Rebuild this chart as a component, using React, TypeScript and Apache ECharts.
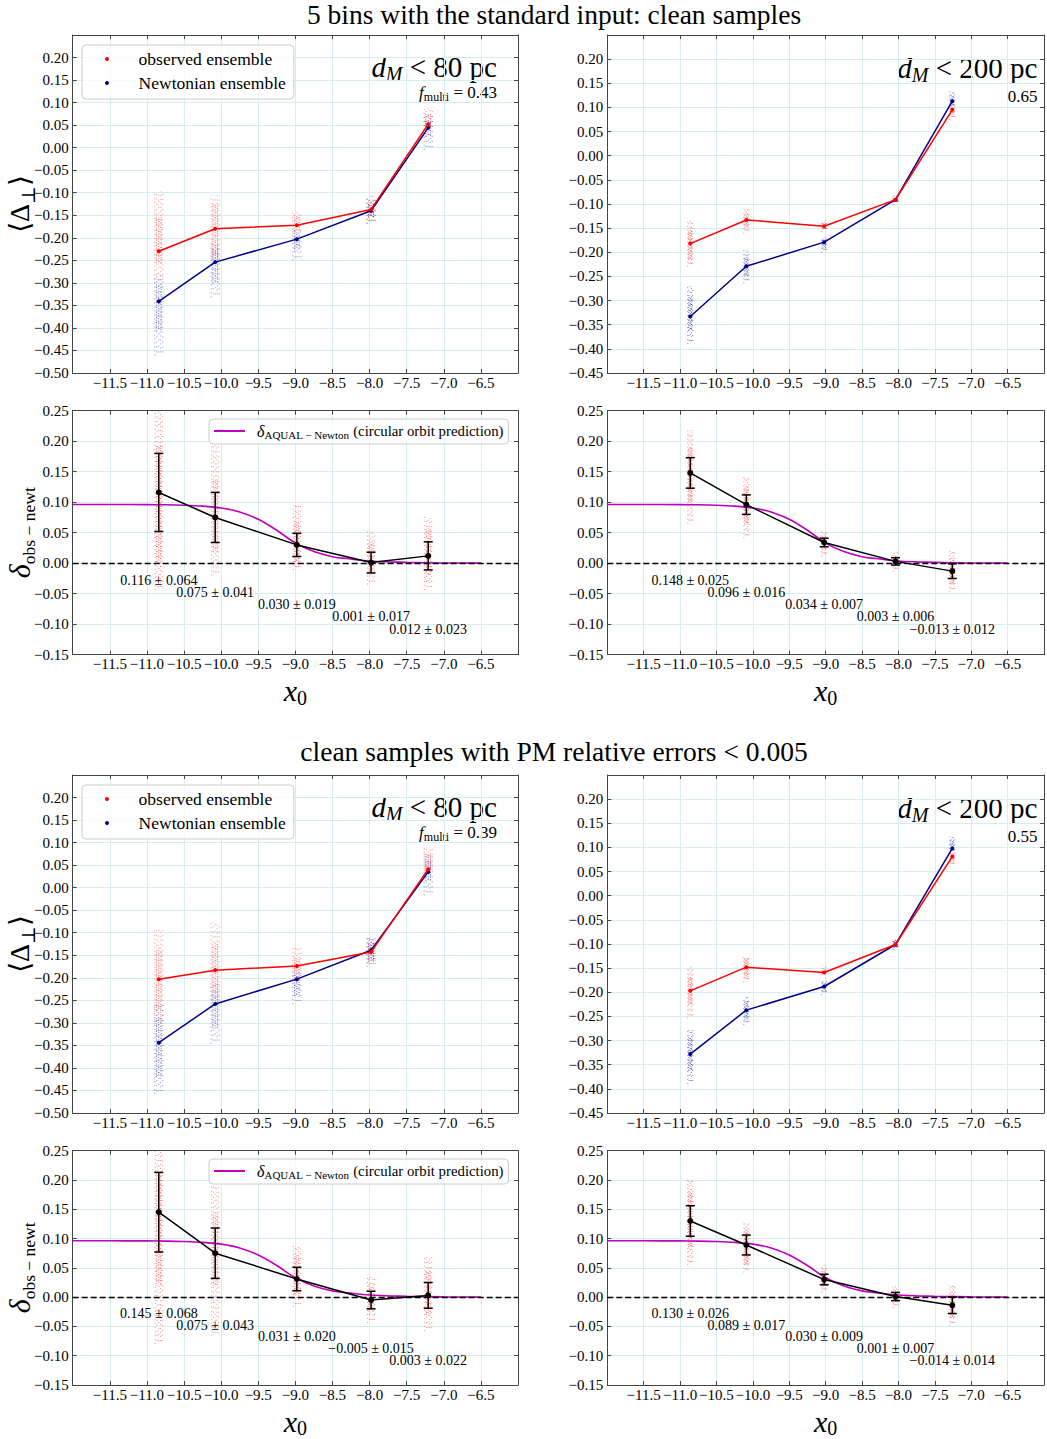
import React, { useEffect, useRef } from 'react';
import * as echarts from 'echarts';

const SERIF = '"Liberation Serif", "Times New Roman", "DejaVu Serif", serif';
const MATH = '"Liberation Serif", "DejaVu Serif", "DejaVu Sans", serif';

const RED = '#ff0000';
const BLUE = '#00008b';
const MAG = '#bf00bf';
const SPINE = '#444444';
const GRIDC = '#d2f0f0';

const titles = ['5 bins with the standard input: clean samples', 'clean samples with PM relative errors < 0.005'];
const distLabels = ['80', '200'];
const fMulti = [['0.43', '0.65'], ['0.39', '0.55']];

// bin centres (x0) for the two distance cuts
const binsNear = [-10.84, -10.08, -8.98, -7.98, -7.21];
const binsFar = [-10.86, -10.09, -9.02, -8.04, -7.26];

// ---- set 1: ensemble means ----
const s1NearObs = [-0.230, -0.180, -0.172, -0.137, 0.052];
const s1NearNewt = [-0.341, -0.254, -0.203, -0.140, 0.044];
const s1FarObs = [-0.182, -0.133, -0.146, -0.091, 0.095];
const s1FarNewt = [-0.333, -0.229, -0.179, -0.091, 0.113];
// ---- set 2: ensemble means ----
const s2NearObs = [-0.203, -0.183, -0.174, -0.143, 0.041];
const s2NearNewt = [-0.344, -0.258, -0.203, -0.139, 0.035];
const s2FarObs = [-0.197, -0.148, -0.159, -0.101, 0.081];
const s2FarNewt = [-0.328, -0.237, -0.188, -0.101, 0.098];

// ensemble clouds: [low, high, dense low, dense high]
const s1NearObsCloud = [[-0.300, -0.097, -0.257, -0.154], [-0.257, -0.105, -0.243, -0.124], [-0.191, -0.141, -0.185, -0.150], [-0.169, -0.107, -0.155, -0.120], [0.039, 0.089, 0.045, 0.075]];
const s1NearNewtCloud = [[-0.461, -0.283, -0.406, -0.302], [-0.332, -0.213, -0.300, -0.225], [-0.250, -0.183, -0.225, -0.190], [-0.169, -0.109, -0.155, -0.125], [-0.005, 0.072, 0.025, 0.060]];
const s1FarObsCloud = [[-0.230, -0.134, -0.216, -0.154], [-0.161, -0.110, -0.150, -0.120], [-0.158, -0.134, -0.153, -0.140], [-0.099, -0.082, -0.095, -0.086], [0.074, 0.105, 0.085, 0.100]];
const s1FarNewtCloud = [[-0.390, -0.270, -0.362, -0.293], [-0.264, -0.195, -0.250, -0.210], [-0.201, -0.169, -0.192, -0.173], [-0.102, -0.084, -0.097, -0.088], [0.098, 0.133, 0.103, 0.125]];
const s2NearObsCloud = [[-0.302, -0.094, -0.272, -0.139], [-0.250, -0.076, -0.228, -0.124], [-0.198, -0.130, -0.190, -0.155], [-0.169, -0.113, -0.160, -0.125], [0.032, 0.091, 0.040, 0.075]];
const s2NearNewtCloud = [[-0.458, -0.258, -0.420, -0.287], [-0.346, -0.213, -0.311, -0.228], [-0.258, -0.183, -0.240, -0.190], [-0.176, -0.109, -0.165, -0.120], [-0.017, 0.076, 0.015, 0.060]];
const s2FarObsCloud = [[-0.254, -0.147, -0.225, -0.168], [-0.179, -0.123, -0.170, -0.130], [-0.164, -0.147, -0.162, -0.150], [-0.112, -0.091, -0.108, -0.095], [0.060, 0.091, 0.070, 0.088]];
const s2FarNewtCloud = [[-0.390, -0.276, -0.362, -0.293], [-0.268, -0.210, -0.258, -0.218], [-0.206, -0.175, -0.198, -0.180], [-0.112, -0.091, -0.108, -0.095], [0.088, 0.122, 0.092, 0.115]];

// ---- delta obs - newt: value and error ----
const s1NearDelta = [0.116, 0.075, 0.030, 0.001, 0.012];
const s1NearErr = [0.064, 0.041, 0.019, 0.017, 0.023];
const s1FarDelta = [0.148, 0.096, 0.034, 0.003, -0.013];
const s1FarErr = [0.025, 0.016, 0.007, 0.006, 0.012];
const s2NearDelta = [0.145, 0.075, 0.031, -0.005, 0.003];
const s2NearErr = [0.068, 0.043, 0.020, 0.015, 0.022];
const s2FarDelta = [0.130, 0.089, 0.030, 0.001, -0.014];
const s2FarErr = [0.026, 0.017, 0.009, 0.007, 0.014];

// delta clouds: [low, high, dense low, dense high]
const s1NearDeltaCloud = [[-0.044, 0.248, 0.002, 0.193], [-0.020, 0.193, 0.018, 0.138], [-0.011, 0.095, 0.002, 0.068], [-0.035, 0.052, -0.014, 0.035], [-0.044, 0.076, -0.020, 0.057]];
const s1FarDeltaCloud = [[0.065, 0.218, 0.100, 0.190], [0.041, 0.142, 0.065, 0.125], [0.011, 0.052, 0.022, 0.045], [-0.014, 0.019, -0.005, 0.012], [-0.047, 0.022, -0.035, 0.005]];
const s2NearDeltaCloud = [[-0.080, 0.250, 0.022, 0.213], [-0.066, 0.190, 0.020, 0.143], [-0.017, 0.090, 0.005, 0.070], [-0.044, 0.035, -0.025, 0.020], [-0.058, 0.068, -0.030, 0.045]];
const s2FarDeltaCloud = [[0.055, 0.200, 0.085, 0.180], [0.042, 0.129, 0.055, 0.115], [0.008, 0.055, 0.018, 0.045], [-0.019, 0.019, -0.010, 0.012], [-0.049, 0.020, -0.035, 0.005]];

// AQUAL - Newton circular orbit prediction
const aqualX = [-12.0, -11.5, -11.0, -10.75, -10.5, -10.25, -10.0, -9.75, -9.5, -9.25, -9.0, -8.75, -8.5, -8.25, -8.0, -7.75, -7.5, -7.0, -6.5];
const aqualY = [0.0963, 0.0962, 0.0960, 0.0957, 0.0950, 0.0935, 0.0905, 0.0840, 0.0720, 0.0540, 0.0330, 0.0190, 0.0107, 0.0068, 0.0036, 0.0022, 0.0014, 0.0004, 0.0001];

const ENS = [
  [
    { bins: binsNear, obs: s1NearObs, newt: s1NearNewt, obsCloud: s1NearObsCloud, newtCloud: s1NearNewtCloud },
    { bins: binsFar, obs: s1FarObs, newt: s1FarNewt, obsCloud: s1FarObsCloud, newtCloud: s1FarNewtCloud },
  ],
  [
    { bins: binsNear, obs: s2NearObs, newt: s2NearNewt, obsCloud: s2NearObsCloud, newtCloud: s2NearNewtCloud },
    { bins: binsFar, obs: s2FarObs, newt: s2FarNewt, obsCloud: s2FarObsCloud, newtCloud: s2FarNewtCloud },
  ],
];
const DELTA = [
  [
    { bins: binsNear, val: s1NearDelta, err: s1NearErr, cloud: s1NearDeltaCloud },
    { bins: binsFar, val: s1FarDelta, err: s1FarErr, cloud: s1FarDeltaCloud },
  ],
  [
    { bins: binsNear, val: s2NearDelta, err: s2NearErr, cloud: s2NearDeltaCloud },
    { bins: binsFar, val: s2FarDelta, err: s2FarErr, cloud: s2FarDeltaCloud },
  ],
];

// ---- layout ----
const SET_DY = [0, 740];
const TITLE_Y = [14, 751];
const COL_X = [72.7, 607.3];
const COL_W = [445.3, 444];
const ENS_TOP = 35;
const ENS_H = 338;
const DEL_TOP = 410.7;
const DEL_H = 244;
const ENS_YMIN = [-0.5, -0.45];
const AQ_NAME = 'aqual';
const TICK_FS = 15;

const minus = (s: string) => s.replace('-', '\u2212');
const fmtX = (v: number) => {
  if (v < -11.75 || v > -6.25) return '';
  return minus(v.toFixed(1));
};
const fmtYEns = (v: number) => (v > 0.245 ? '' : minus(Math.abs(v) < 1e-9 ? '0.00' : v.toFixed(2)));
const fmtYDel = (v: number) => minus(Math.abs(v) < 1e-9 ? '0.00' : v.toFixed(2));
const fmt3 = (v: number) => minus(v.toFixed(3));

const cloudRender = (color: string, half: number) => (params: any, api: any) => {
  const x = api.value(0);
  const lo = api.coord([x, api.value(1)]);
  const hi = api.coord([x, api.value(2)]);
  const cl = api.coord([x, api.value(3)]);
  const ch = api.coord([x, api.value(4)]);
  const children: any[] = [];
  const n = 5;
  for (let k = 0; k < n; k++) {
    const o = -half + (2 * half * k) / (n - 1);
    children.push({
      type: 'line',
      shape: { x1: lo[0] + o, y1: lo[1], x2: hi[0] + o, y2: hi[1] },
      style: { stroke: color, lineWidth: 1, lineDash: [1, 3 + (k % 3)], lineDashOffset: k * 1.7, opacity: 0.45 },
    });
  }
  for (let k = 0; k < 3; k++) {
    const o = -half * 0.6 + half * 0.6 * k;
    children.push({
      type: 'line',
      shape: { x1: cl[0] + o, y1: cl[1], x2: ch[0] + o, y2: ch[1] },
      style: { stroke: color, lineWidth: 1, lineDash: [1, 1.5], lineDashOffset: k * 0.8, opacity: 0.55 },
    });
  }
  return { type: 'group', children };
};

const errRender = (params: any, api: any) => {
  const x = api.value(0);
  const v = api.value(1);
  const e = api.value(2);
  const a = api.coord([x, v - e]);
  const b = api.coord([x, v + e]);
  const cw = 4.5;
  const st = { stroke: '#000', lineWidth: 1.5 };
  return {
    type: 'group',
    children: [
      { type: 'line', shape: { x1: a[0], y1: a[1], x2: b[0], y2: b[1] }, style: st },
      { type: 'line', shape: { x1: a[0] - cw, y1: a[1], x2: a[0] + cw, y2: a[1] }, style: st },
      { type: 'line', shape: { x1: b[0] - cw, y1: b[1], x2: b[0] + cw, y2: b[1] }, style: st },
    ],
  };
};

const annRender = (params: any, api: any) => {
  const i = params.dataIndex;
  const x = api.value(0);
  const pt = api.coord([x, -0.028 - 0.02 * i]);
  return {
    type: 'text',
    x: pt[0],
    y: pt[1],
    style: {
      text: `${fmt3(api.value(1))} \u00b1 ${fmt3(api.value(2))}`,
      align: 'center',
      verticalAlign: 'middle',
      fontFamily: SERIF,
      fontSize: 14,
      fill: '#000',
    },
  };
};

function axisPair(gi: number, kind: 'x' | 'y', min: number, max: number, interval: number, formatter: any, name: string, nameStyle: any, nameGap: number) {
  const base = {
    type: 'value',
    gridIndex: gi,
    min,
    max,
    interval,
    axisLine: { show: true, onZero: false, lineStyle: { color: SPINE, width: 1 } },
    axisTick: { show: true, inside: true, length: 4, lineStyle: { color: SPINE, width: 1 } },
  };
  const primary = {
    ...base,
    position: kind === 'x' ? 'bottom' : 'left',
    axisLabel: {
      show: true, fontFamily: SERIF, fontSize: TICK_FS, color: '#000',
      margin: kind === 'x' ? 2 : 4, formatter,
    },
    splitLine: { show: true, lineStyle: { color: GRIDC, width: 1 } },
    name,
    nameLocation: 'middle',
    nameRotate: kind === 'y' ? 90 : 0,
    nameGap,
    nameMoveOverlap: false,
    nameTextStyle: nameStyle,
  };
  const secondary = {
    ...base,
    position: kind === 'x' ? 'top' : 'right',
    axisLabel: { show: false },
    splitLine: { show: false },
  };
  return [primary, secondary];
}

const xNameStyle = {
  rich: {
    x: { fontFamily: MATH, fontSize: 30, fontStyle: 'italic', lineHeight: 34, color: '#000' },
    s: { fontFamily: MATH, fontSize: 20, lineHeight: 21, verticalAlign: 'bottom', color: '#000' },
  },
};
const yEnsNameStyle = {
  rich: {
    b: { fontFamily: MATH, fontSize: 28, lineHeight: 36, color: '#000' },
    s: { fontFamily: MATH, fontSize: 19, lineHeight: 22, verticalAlign: 'bottom', color: '#000' },
  },
};
const yDelNameStyle = {
  rich: {
    d: { fontFamily: MATH, fontSize: 30, fontStyle: 'italic', lineHeight: 36, color: '#000' },
    s: { fontFamily: MATH, fontSize: 17.5, lineHeight: 21, verticalAlign: 'bottom', color: '#000' },
  },
};

function buildOption() {
  const grid: any[] = [];
  const xAxis: any[] = [];
  const yAxis: any[] = [];
  const series: any[] = [];
  const legend: any[] = [];
  const graphic: any[] = [];
  let gi = 0;

  [0, 1].forEach((set) => {
    const dy = SET_DY[set];
    graphic.push({
      type: 'text',
      x: 554,
      y: TITLE_Y[set],
      style: { text: titles[set], fontFamily: SERIF, fontSize: 27.5, lineHeight: 26, fill: '#000', align: 'center', verticalAlign: 'middle' },
    });

    // ---- ensemble panels ----
    [0, 1].forEach((col) => {
      const d = ENS[set][col];
      grid.push({ left: COL_X[col], top: ENS_TOP + dy, width: COL_W[col], height: ENS_H, containLabel: false });
      xAxis.push(...axisPair(gi, 'x', -12, -6, 0.5, fmtX, '', {}, 0));
      yAxis.push(
        ...axisPair(gi, 'y', ENS_YMIN[col], 0.25, 0.05, fmtYEns, col === 0 ? '{b|\u27e8\u0394}{s|\u22a5}{b|\u27e9}' : '', yEnsNameStyle, 35)
      );
      const xi = 2 * gi;
      const half = col === 0 ? 4 : 2.5;
      series.push({
        type: 'custom', name: 'observed ensemble', xAxisIndex: xi, yAxisIndex: xi, clip: true, silent: true, z: 1,
        itemStyle: { color: RED }, renderItem: cloudRender(RED, half),
        data: d.bins.map((x, i) => [x, ...d.obsCloud[i]]),
      });
      series.push({
        type: 'custom', name: 'Newtonian ensemble', xAxisIndex: xi, yAxisIndex: xi, clip: true, silent: true, z: 1,
        itemStyle: { color: BLUE }, renderItem: cloudRender(BLUE, half),
        data: d.bins.map((x, i) => [x, ...d.newtCloud[i]]),
      });
      series.push({
        type: 'line', name: `newt-mean-${gi}`, xAxisIndex: xi, yAxisIndex: xi, silent: true, z: 3,
        symbol: 'circle', symbolSize: 4, lineStyle: { color: BLUE, width: 1.5 }, itemStyle: { color: BLUE },
        data: d.bins.map((x, i) => [x, d.newt[i]]),
      });
      series.push({
        type: 'line', name: `obs-mean-${gi}`, xAxisIndex: xi, yAxisIndex: xi, silent: true, z: 4,
        symbol: 'circle', symbolSize: 4, lineStyle: { color: RED, width: 1.5 }, itemStyle: { color: RED },
        data: d.bins.map((x, i) => [x, d.obs[i]]),
      });

      const rightX = col === 0 ? 497 : 1037.5;
      graphic.push({
        type: 'text',
        x: rightX,
        y: (col === 0 ? 66.7 : 67.7) + dy,
        style: {
          text: `{i|d}{s|M}{n| < ${distLabels[col]} pc}`,
          align: 'right',
          verticalAlign: 'middle',
          rich: {
            i: { fontFamily: MATH, fontSize: 29, fontStyle: 'italic', lineHeight: 34, fill: '#000' },
            s: { fontFamily: MATH, fontSize: 20, fontStyle: 'italic', lineHeight: 23, verticalAlign: 'bottom', fill: '#000' },
            n: { fontFamily: MATH, fontSize: 29, lineHeight: 34, fill: '#000' },
          },
        },
      });
      graphic.push({
        type: 'text',
        x: rightX,
        y: (col === 0 ? 92.7 : 96.7) + dy,
        style: {
          text: col === 0 ? `{i|f}{s|multi}{n| = ${fMulti[set][col]}}` : `{n|${fMulti[set][col]}}`,
          align: 'right',
          verticalAlign: 'middle',
          rich: {
            i: { fontFamily: MATH, fontSize: 17, fontStyle: 'italic', lineHeight: 20, fill: '#000' },
            s: { fontFamily: MATH, fontSize: 12, lineHeight: 13, verticalAlign: 'bottom', fill: '#000' },
            n: { fontFamily: MATH, fontSize: 17, lineHeight: 20, fill: '#000' },
          },
        },
      });
      if (col === 0) {
        legend.push({
          left: 82, top: 45 + dy, orient: 'vertical', align: 'left', selectedMode: false,
          padding: [4, 8, 6, 23], itemGap: 4, itemWidth: 28, itemHeight: 4,
          backgroundColor: 'rgba(255,255,255,0.8)', borderColor: '#cccccc', borderWidth: 1, borderRadius: 4,
          textStyle: { fontFamily: SERIF, fontSize: 17.5, lineHeight: 20, color: '#000', padding: [0, 0, 0, 12.6] },
          data: [
            { name: 'observed ensemble', icon: 'circle', itemStyle: { color: RED } },
            { name: 'Newtonian ensemble', icon: 'circle', itemStyle: { color: BLUE } },
          ],
        });
      }
      gi++;
    });

    // ---- delta panels ----
    [0, 1].forEach((col) => {
      const d = DELTA[set][col];
      grid.push({ left: COL_X[col], top: DEL_TOP + dy, width: COL_W[col], height: DEL_H, containLabel: false });
      xAxis.push(...axisPair(gi, 'x', -12, -6, 0.5, fmtX, '{x|x}{s|0}', xNameStyle, 19));
      yAxis.push(...axisPair(gi, 'y', -0.15, 0.25, 0.05, fmtYDel, col === 0 ? '{d|\u03b4}{s|obs \u2212 newt}' : '', yDelNameStyle, 35));
      const xi = 2 * gi;
      series.push({
        type: 'custom', name: `delta-cloud-${gi}`, xAxisIndex: xi, yAxisIndex: xi, clip: true, silent: true, z: 1,
        itemStyle: { color: RED }, renderItem: cloudRender(RED, col === 0 ? 3.5 : 2.5),
        data: d.bins.map((x, i) => [x, ...d.cloud[i]]),
      });
      series.push({
        type: 'line', name: AQ_NAME, xAxisIndex: xi, yAxisIndex: xi, silent: true, z: 2,
        symbol: 'none', smooth: 0.3, lineStyle: { color: MAG, width: 1.6 }, itemStyle: { color: MAG },
        data: aqualX.map((x, i) => [x, aqualY[i]]),
      });
      series.push({
        type: 'line', name: `delta-mean-${gi}`, xAxisIndex: xi, yAxisIndex: xi, silent: true, z: 4,
        symbol: 'circle', symbolSize: 6, lineStyle: { color: '#000', width: 1.5 }, itemStyle: { color: '#000' },
        data: d.bins.map((x, i) => [x, d.val[i]]),
        markLine: {
          silent: true, symbol: ['none', 'none'], label: { show: false },
          lineStyle: { color: '#000', width: 1.4, type: [6, 3] },
          data: [{ yAxis: 0 }],
        },
      });
      series.push({
        type: 'custom', name: `delta-err-${gi}`, xAxisIndex: xi, yAxisIndex: xi, silent: true, z: 5,
        renderItem: errRender,
        data: d.bins.map((x, i) => [x, d.val[i], d.err[i]]),
      });
      series.push({
        type: 'custom', name: `delta-ann-${gi}`, xAxisIndex: xi, yAxisIndex: xi, silent: true, z: 6,
        renderItem: annRender,
        data: d.bins.map((x, i) => [x, d.val[i], d.err[i]]),
      });
      if (col === 0) {
        legend.push({
          left: 209, top: 419 + dy, orient: 'vertical', selectedMode: false,
          padding: [4, 5, 4, 5], itemWidth: 31, itemHeight: 2,
          backgroundColor: 'rgba(255,255,255,0.8)', borderColor: '#cccccc', borderWidth: 1, borderRadius: 4,
          formatter: () => '{g| }{d|\u03b4}{s|AQUAL \u2212 Newton}{t| (circular orbit prediction)}',
          textStyle: {
            rich: {
              g: { fontFamily: SERIF, fontSize: 15, width: 7, lineHeight: 18 },
              d: { fontFamily: MATH, fontSize: 16, fontStyle: 'italic', lineHeight: 18, color: '#000' },
              s: { fontFamily: MATH, fontSize: 11, lineHeight: 11, verticalAlign: 'bottom', color: '#000' },
              t: { fontFamily: SERIF, fontSize: 14.8, lineHeight: 18, color: '#000' },
            },
          },
          data: [{ name: AQ_NAME, icon: 'rect', itemStyle: { color: MAG } }],
        });
      }
      gi++;
    });
  });

  return {
    animation: false,
    backgroundColor: '#ffffff',
    textStyle: { fontFamily: SERIF },
    grid,
    xAxis,
    yAxis,
    legend,
    series,
    graphic,
  };
}

export default function App() {
  const ref = useRef<HTMLDivElement>(null);
  useEffect(() => {
    if (!ref.current) return;
    const chart = echarts.init(ref.current, null, { renderer: 'svg' });
    chart.setOption(buildOption() as any);
    return () => chart.dispose();
  }, []);
  return (
    <div
      ref={ref}
      style={{ position: 'absolute', left: 0, top: 0, width: 1047, height: 1439, background: '#fff' }}
    />
  );
}
